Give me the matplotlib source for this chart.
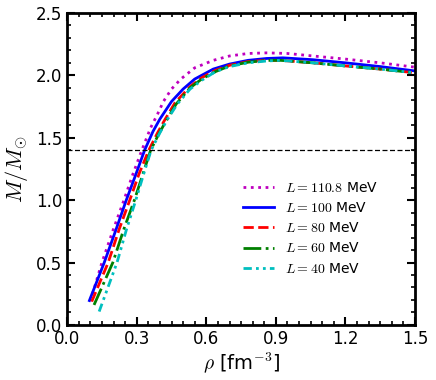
import matplotlib
matplotlib.use('Agg')
from matplotlib import pyplot as plt
from matplotlib.ticker import MultipleLocator

plt.rcParams['mathtext.fontset'] = 'cm'
plt.rcParams['font.family'] = 'DejaVu Sans'

# L = 110.8 MeV
rho_1108 = [0.10, 0.15, 0.20, 0.245, 0.28, 0.322, 0.36, 0.39, 0.415, 0.45, 0.49, 0.55, 0.63, 0.70, 0.78, 0.86, 0.95, 1.06, 1.20, 1.35, 1.50]
m_1108 = [0.19, 0.50, 0.77, 1.00, 1.19, 1.40, 1.58, 1.69, 1.79, 1.89, 1.97, 2.06, 2.12, 2.155, 2.175, 2.18, 2.175, 2.155, 2.13, 2.10, 2.065]
# L = 100 MeV
rho_100 = [0.096, 0.16, 0.21, 0.255, 0.295, 0.334, 0.37, 0.40, 0.45, 0.50, 0.55, 0.63, 0.70, 0.78, 0.86, 0.93, 1.06, 1.20, 1.35, 1.50]
m_100 = [0.195, 0.50, 0.76, 1.00, 1.20, 1.40, 1.55, 1.65, 1.79, 1.89, 1.97, 2.05, 2.09, 2.12, 2.135, 2.14, 2.125, 2.10, 2.07, 2.035]
# L = 80 MeV
rho_80 = [0.106, 0.177, 0.225, 0.27, 0.31, 0.352, 0.39, 0.42, 0.465, 0.53, 0.58, 0.64, 0.70, 0.78, 0.86, 0.92, 1.06, 1.20, 1.35, 1.50]
m_80 = [0.187, 0.50, 0.77, 1.00, 1.21, 1.40, 1.54, 1.64, 1.78, 1.91, 1.98, 2.04, 2.08, 2.11, 2.12, 2.12, 2.10, 2.075, 2.05, 2.02]
# L = 60 MeV
rho_60 = [0.116, 0.197, 0.245, 0.29, 0.325, 0.36, 0.395, 0.425, 0.47, 0.53, 0.58, 0.64, 0.70, 0.78, 0.86, 0.92, 1.06, 1.20, 1.35, 1.50]
m_60 = [0.16, 0.50, 0.77, 1.00, 1.20, 1.40, 1.53, 1.63, 1.77, 1.90, 1.97, 2.03, 2.075, 2.105, 2.12, 2.12, 2.10, 2.075, 2.05, 2.02]
# L = 40 MeV
rho_40 = [0.138, 0.215, 0.255, 0.296, 0.33, 0.362, 0.40, 0.43, 0.475, 0.53, 0.58, 0.64, 0.70, 0.78, 0.86, 0.92, 1.06, 1.20, 1.35, 1.50]
m_40 = [0.107, 0.50, 0.76, 1.00, 1.21, 1.40, 1.54, 1.64, 1.77, 1.89, 1.96, 2.03, 2.07, 2.10, 2.115, 2.12, 2.10, 2.075, 2.05, 2.02]

canonical_mass = 1.4

fig = plt.figure(figsize=(4.36, 3.80), dpi=100)
ax = fig.add_axes([0.154, 0.145, 0.798, 0.821])

ax.plot(rho_1108, m_1108, color='m', linestyle=':', linewidth=2, label=r'$L = 110.8$ MeV')
ax.plot(rho_100, m_100, color='b', linestyle='-', linewidth=2, label=r'$L = 100$ MeV')
ax.plot(rho_80, m_80, color='r', linestyle='--', linewidth=2, label=r'$L = 80$ MeV')
ax.plot(rho_60, m_60, color='g', linestyle='-.', linewidth=2, label=r'$L = 60$ MeV')
ax.plot(rho_40, m_40, color='c', linestyle=(0, (3, 1.5, 1, 1.5, 1, 1.5)), linewidth=2, label=r'$L = 40$ MeV')
ax.axhline(canonical_mass, color='black', linestyle='--', linewidth=0.9, dashes=(4, 2))

ax.set_xlim(0, 1.5)
ax.set_ylim(0, 2.5)
ax.xaxis.set_major_locator(MultipleLocator(0.3))
ax.xaxis.set_minor_locator(MultipleLocator(0.05))
ax.yaxis.set_major_locator(MultipleLocator(0.5))
ax.yaxis.set_minor_locator(MultipleLocator(0.1))
ax.tick_params(which='both', direction='in', top=True, right=True, labelsize=12)
ax.tick_params(which='major', length=6, width=1.5)
ax.tick_params(which='minor', length=3, width=1.2)
for spine in ax.spines.values():
    spine.set_linewidth(2)

ax.set_xlabel(r'$\rho$ [fm$^{-3}$]', fontsize=14, labelpad=2)
ax.set_ylabel(r'$M/M_{\odot}$', fontsize=16, labelpad=4)

ax.legend(loc='center', bbox_to_anchor=(0.70, 0.31), frameon=False, fontsize=10,
          handlelength=2.2, labelspacing=0.45, handletextpad=0.8)

plt.savefig('out.png', dpi=100)
plt.close()
